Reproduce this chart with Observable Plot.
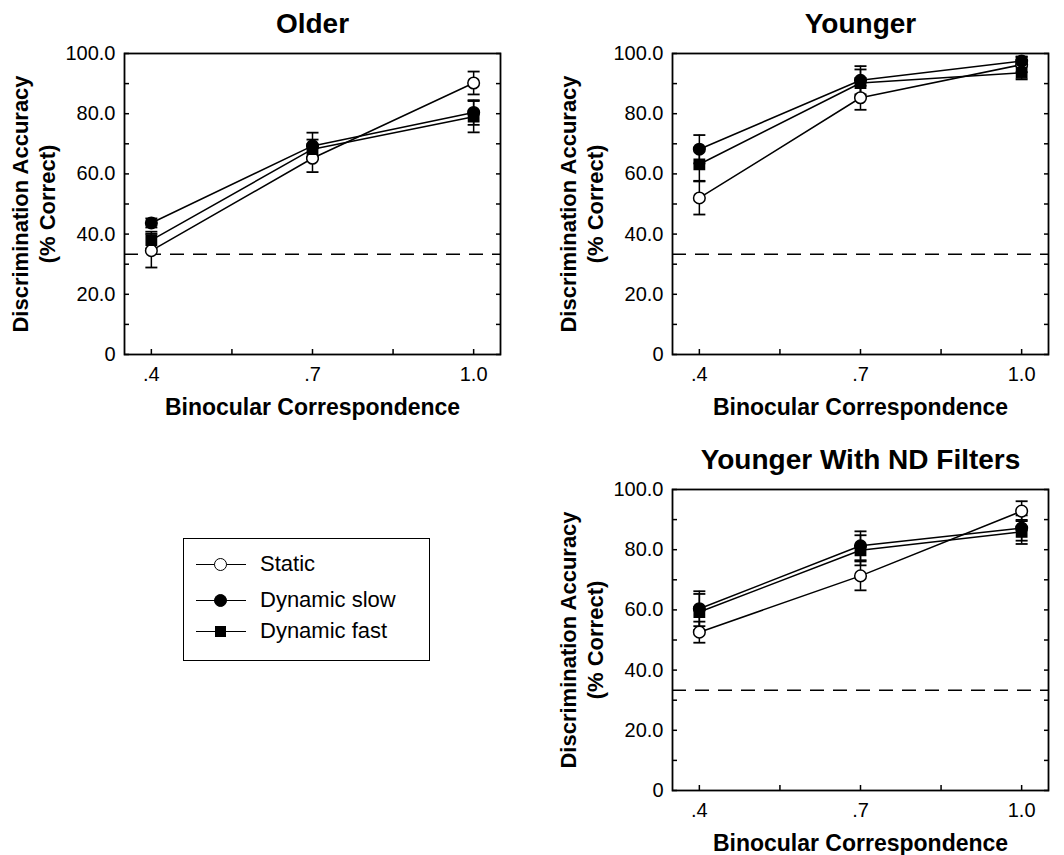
<!DOCTYPE html>
<html>
<head>
<meta charset="utf-8">
<script src="https://cdn.jsdelivr.net/npm/d3@7"></script>
<script src="https://cdn.jsdelivr.net/npm/@observablehq/plot@0.6"></script>
<style>
  html, body { margin: 0; padding: 0; background: #fff; }
  #root { position: relative; width: 1064px; height: 855px; font-family: "Liberation Sans", Arial, Helvetica, sans-serif; }
  .panel { position: absolute; }
  .legend { position: absolute; left: 183px; top: 538px; width: 245px; height: 121px; border: 1.5px solid #000; }
  .row { position: absolute; left: 0; height: 24px; width: 100%; }
  .sw { position: absolute; left: 12px; top: 11px; width: 50px; height: 0; border-top: 1.5px solid #000; }
  .mk { position: absolute; left: 30px; top: 5px; width: 13px; height: 13px; box-sizing: border-box; border: 1.5px solid #000; }
  .mk.circle { border-radius: 50%; }
  .mk.square { left: 31px; top: 6px; width: 11px; height: 11px; }
  .lbl { position: absolute; left: 76px; top: -1px; font-size: 22px; line-height: 24px; color: #000; }
</style>
</head>
<body>
<div id="root"></div>
<script>
// ---- data ----
const correspondence = [0.4, 0.7, 1.0];
const seriesNames = ["Static", "Dynamic slow", "Dynamic fast"];

const olderStatic = [34.5, 65.2, 90.2];
const olderStaticSE = [5.6, 4.6, 3.8];
const olderSlow = [43.7, 69.3, 80.4];
const olderSlowSE = [1.5, 4.4, 4.1];
const olderFast = [38.0, 68.2, 79.0];
const olderFastSE = [2.8, 3.2, 5.2];

const youngerStatic = [52.0, 85.3, 96.3];
const youngerStaticSE = [5.5, 4.0, 2.5];
const youngerSlow = [68.2, 91.1, 97.5];
const youngerSlowSE = [4.7, 4.7, 1.5];
const youngerFast = [63.2, 90.2, 93.6];
const youngerFastSE = [5.5, 4.5, 2.2];

const ndStatic = [52.6, 71.3, 92.8];
const ndStaticSE = [3.5, 4.8, 3.3];
const ndSlow = [60.4, 81.3, 87.2];
const ndSlowSE = [5.8, 4.8, 4.2];
const ndFast = [59.3, 79.8, 85.9];
const ndFastSE = [6.0, 5.0, 4.0];

const chanceLevel = 33.3;
const yTicks = [0, 10, 20, 30, 40, 50, 60, 70, 80, 90, 100];
const xTicks = [0.4, 0.55, 0.7, 0.85, 1.0];
const xTickLabels = [".4", "", ".7", "", "1.0"];

const yLabel1 = "Discrimination Accuracy";
const yLabel2 = "(% Correct)";
const xLabel = "Binocular Correspondence";

// ---- helpers ----
function rows(stat, statSE, slow, slowSE, fast, fastSE) {
  const out = [];
  const sets = [[stat, statSE], [slow, slowSE], [fast, fastSE]];
  sets.forEach(([v, se], s) => {
    correspondence.forEach((x, i) => {
      out.push({series: seriesNames[s], x, y: v[i], lo: v[i] - se[i], hi: v[i] + se[i]});
    });
  });
  return out;
}

const capSymbol = {
  draw(context) { context.moveTo(-6, 0); context.lineTo(6, 0); }
};

const FONT = '"Liberation Sans", Arial, Helvetica, sans-serif';

function panel(title, data) {
  const caps = data.flatMap(d => [{x: d.x, y: d.lo}, {x: d.x, y: d.hi}]);
  return Plot.plot({
    width: 532,
    height: 419,
    marginLeft: 140,
    marginRight: 16,
    marginTop: 53,
    marginBottom: 65,
    style: {fontFamily: FONT, fontSize: "18px", color: "#000", background: "transparent", overflow: "visible"},
    x: {domain: [0.35, 1.05]},
    y: {domain: [0, 100]},
    symbol: {domain: seriesNames, range: ["circle", "circle", "square"]},
    color: {domain: seriesNames, range: ["white", "black", "black"]},
    marks: [
      Plot.ruleY([chanceLevel], {stroke: "#000", strokeWidth: 1.5, strokeDasharray: "14,9"}),
      Plot.axisY({anchor: "left", ticks: yTicks, tickSize: -5, tickPadding: 14, label: null,
        tickFormat: d => d === 0 ? "0" : (d % 20 === 0 ? d.toFixed(1) : ""), fontSize: 20, strokeWidth: 1.5}),
      Plot.axisY({anchor: "right", ticks: yTicks, tickSize: -5, label: null, tickFormat: () => "", strokeWidth: 1.5}),
      Plot.axisX({anchor: "bottom", ticks: xTicks, tickSize: -5, tickPadding: 17, label: null,
        tickFormat: d => xTickLabels[xTicks.indexOf(d)] ?? "", fontSize: 20, strokeWidth: 1.5}),
      Plot.frame({stroke: "#000", strokeWidth: 1.8}),
      Plot.line(data, {x: "x", y: "y", z: "series", stroke: "#000", strokeWidth: 1.5}),
      Plot.ruleX(data, {x: "x", y1: "lo", y2: "hi", stroke: "#000", strokeWidth: 1.5}),
      Plot.dot(caps, {x: "x", y: "y", symbol: capSymbol, stroke: "#000", strokeWidth: 1.8, fill: "none", r: 6}),
      Plot.dot(data, {x: "x", y: "y", symbol: "series", fill: "series", stroke: "#000", strokeWidth: 1.5, r: 5.8}),
      Plot.text([title], {text: d => d, frameAnchor: "top", dy: -21, lineAnchor: "bottom", fontSize: 28, fontWeight: "bold"}),
      Plot.text([xLabel], {text: d => d, frameAnchor: "bottom", dy: 60, lineAnchor: "bottom", fontSize: 23, fontWeight: "bold"}),
      Plot.text([yLabel1], {text: d => d, frameAnchor: "left", textAnchor: "middle", dx: -104, rotate: -90, lineAnchor: "middle", fontSize: 22, fontWeight: "bold"}),
      Plot.text([yLabel2], {text: d => d, frameAnchor: "left", textAnchor: "middle", dx: -77, rotate: -90, lineAnchor: "middle", fontSize: 22, fontWeight: "bold"})
    ]
  });
}

const root = document.getElementById("root");
function place(el, left, top) {
  const w = document.createElement("div");
  w.className = "panel";
  w.style.left = left + "px";
  w.style.top = top + "px";
  w.appendChild(el);
  root.appendChild(w);
}

place(panel("Older", rows(olderStatic, olderStaticSE, olderSlow, olderSlowSE, olderFast, olderFastSE)), -16, 0);
place(panel("Younger", rows(youngerStatic, youngerStaticSE, youngerSlow, youngerSlowSE, youngerFast, youngerFastSE)), 532, 0);
place(panel("Younger With ND Filters", rows(ndStatic, ndStaticSE, ndSlow, ndSlowSE, ndFast, ndFastSE)), 532, 436);

// legend
const legend = document.createElement("div");
legend.className = "legend";
const rowTops = [14, 50, 81];
const shapes = ["circle", "circle", "square"];
const fills = ["#fff", "#000", "#000"];
seriesNames.forEach((name, i) => {
  const r = document.createElement("div");
  r.className = "row";
  r.style.top = rowTops[i] + "px";
  const sw = document.createElement("div"); sw.className = "sw";
  const mk = document.createElement("div"); mk.className = "mk " + shapes[i];
  mk.style.background = fills[i];
  const lb = document.createElement("div"); lb.className = "lbl"; lb.textContent = name;
  r.appendChild(sw); r.appendChild(mk); r.appendChild(lb);
  legend.appendChild(r);
});
root.appendChild(legend);
</script>
</body>
</html>
